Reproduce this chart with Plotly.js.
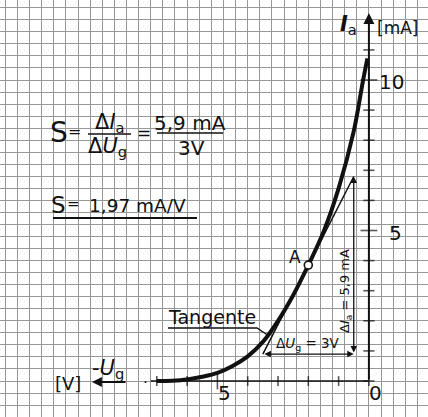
<!DOCTYPE html>
<html>
<head>
<meta charset="utf-8">
<script src="https://cdn.plot.ly/plotly-3.0.1.min.js"></script>
<style>
  html, body { margin: 0; padding: 0; background: #fff; }
  #chart { width: 428px; height: 417px; }
</style>
</head>
<body>
<div id="chart"></div>
<script>
// Triode characteristic: anode current Ia versus negative grid voltage -Ug
const ugCurve = [7.0, 6.5, 6.0, 5.5, 5.0, 4.5, 4.0, 3.5, 3.0, 2.5, 2.0, 1.5, 1.0, 0.5, 0.2, 0.05];
const iaCurve = [0.0, 0.01, 0.05, 0.14, 0.27, 0.5, 0.82, 1.3, 2.0, 2.85, 3.85, 4.95, 6.4, 8.3, 9.95, 10.72];

// Operating point A and the tangent through it
const pointA = { ug: 2.0, ia: 3.85 };
const slopeS = 1.97;        // mA/V
const deltaUg = 3;          // V
const deltaIa = 5.9;        // mA

// Axis ticks and their labels
const xTicks = [0, 1, 2, 3, 4, 5, 6, 7];
const yTicks = [0, 1, 2, 3, 4, 5, 6, 7, 8, 9, 10, 11];
const xTickLabels = [{ v: 5, t: '5' }, { v: 0, t: '0' }];
const yTickLabels = [{ v: 10, t: '10' }, { v: 5, t: '5' }];

const W = 428, H = 417;
const FONT = 'DejaVu Sans, Liberation Sans, sans-serif';
const INK = '#111';

// pixel position -> paper fraction (used for text and decorations only)
const px = (x) => x / W;
const py = (y) => 1 - y / H;

// tangent end points from the stated values
const tanLo = { ug: pointA.ug + deltaUg / 2, ia: pointA.ia - slopeS * deltaUg / 2 };
const tanHi = { ug: pointA.ug - deltaUg / 2, ia: tanLo.ia + deltaIa };

const traces = [
  { // characteristic curve
    x: ugCurve, y: iaCurve, mode: 'lines', type: 'scatter',
    line: { color: INK, width: 4, shape: 'spline', smoothing: 1 },
    hoverinfo: 'skip'
  },
  { // tangent at A
    x: [tanLo.ug, tanHi.ug], y: [tanLo.ia, tanHi.ia], mode: 'lines', type: 'scatter',
    line: { color: INK, width: 1.5 }, hoverinfo: 'skip'
  },
  { // x axis ticks
    x: xTicks, y: xTicks.map(() => 0), mode: 'markers', type: 'scatter',
    marker: { symbol: 'line-ns-open', color: INK, size: xTicks.map(v => v === 5 ? 12 : 7),
              line: { color: INK, width: 1.6 } },
    hoverinfo: 'skip'
  },
  { // y axis ticks
    x: yTicks.map(() => 0), y: yTicks, mode: 'markers', type: 'scatter',
    marker: { symbol: 'line-ew-open', color: INK, size: yTicks.map(v => (v === 5 || v === 10) ? 12 : 8),
              line: { color: INK, width: 1.6 } },
    hoverinfo: 'skip'
  },
  { // operating point A
    x: [pointA.ug], y: [pointA.ia], mode: 'markers', type: 'scatter',
    marker: { symbol: 'circle', size: 8, color: '#fff', line: { color: INK, width: 1.6 } },
    hoverinfo: 'skip'
  }
];

const txt = (x, y, text, size, extra) => Object.assign({
  xref: 'paper', yref: 'paper', x: px(x), y: py(y), text: text,
  showarrow: false, xanchor: 'center', yanchor: 'middle',
  font: { family: FONT, size: size, color: INK }
}, extra || {});

const annotations = [
  // slope formula
  txt(58.5, 132, 'S', 28),
  txt(74, 131, '=', 16),
  txt(110, 123, 'Δ<i>I</i><sub>a</sub>', 21),
  txt(108, 147, 'Δ<i>U</i><sub>g</sub>', 21),
  txt(144, 133, '=', 17),
  txt(190, 123, '5,9 mA', 20),
  txt(191, 148, '3V', 20),
  txt(59, 205, 'S', 23),
  txt(73, 204, '=', 15),
  txt(137, 205, '1,97 mA/V', 18.5),
  // labels on the drawing
  txt(212, 317, 'Tangente', 19),
  txt(295, 257, 'A', 17),
  txt(308, 344, 'Δ<i>U</i><sub>g</sub> = 3V', 13.5),
  txt(345, 291, 'Δ<i>I</i><sub>a</sub> = 5,9 mA', 13, { textangle: -90 }),
  // axis titles
  txt(348, 25, '<b><i>I</i></b><sub>a</sub>', 21),
  txt(397, 28, '[mA]', 17),
  txt(108, 369, '-<i>U</i><sub>g</sub>', 21),
  txt(68, 383, '[V]', 18),
  // y axis with arrow
  { x: 0, y: 12.23, ax: 0, ay: 0, axref: 'x', ayref: 'y', xref: 'x', yref: 'y',
    text: '', showarrow: true, arrowhead: 2, arrowsize: 1.1, arrowwidth: 2, arrowcolor: INK },
  // -Ug direction arrow
  { xref: 'paper', yref: 'paper', x: px(92), y: py(382), ax: 35, ay: 0,
    text: '', showarrow: true, arrowhead: 2, arrowsize: 1.1, arrowwidth: 1.8, arrowcolor: INK },
  // delta Ug double arrow
  { x: tanHi.ug, y: tanLo.ia, ax: tanLo.ug, ay: tanLo.ia, axref: 'x', ayref: 'y', xref: 'x', yref: 'y',
    text: '', showarrow: true, arrowhead: 2, arrowside: 'end+start', arrowsize: 1, arrowwidth: 1.3, arrowcolor: INK },
  // delta Ia double arrow
  { x: tanHi.ug, y: tanHi.ia, ax: tanHi.ug, ay: tanLo.ia, axref: 'x', ayref: 'y', xref: 'x', yref: 'y',
    text: '', showarrow: true, arrowhead: 2, arrowside: 'end+start', arrowsize: 1, arrowwidth: 1.3, arrowcolor: INK }
];

// tick numbers placed next to the axes
xTickLabels.forEach(d => annotations.push({
  x: d.v, y: 0, xref: 'x', yref: 'y', text: d.t, showarrow: false,
  xshift: 7, yshift: -12,
  font: { family: FONT, size: 20, color: INK }
}));
yTickLabels.forEach(d => annotations.push({
  x: 0, y: d.v, xref: 'x', yref: 'y', text: d.t, showarrow: false,
  xshift: d.t.length > 1 ? 23 : 27, yshift: -2,
  font: { family: FONT, size: 20, color: INK }
}));

const line = (x0, y0, x1, y1, w) => ({
  type: 'line', xref: 'paper', yref: 'paper',
  x0: px(x0), y0: py(y0), x1: px(x1), y1: py(y1),
  line: { color: INK, width: w }
});

const shapes = [
  // x axis line
  { type: 'line', xref: 'x', yref: 'y', x0: 7.2, y0: 0, x1: 0, y1: 0, line: { color: INK, width: 1.5 } },
  // fraction bars and underline
  line(88, 134, 131, 134, 1.6),
  line(157, 133, 223, 133, 1.6),
  line(53, 218, 197, 218, 2),
  // leader from "Tangente" to the tangent
  { type: 'path', xref: 'paper', yref: 'paper',
    path: 'M ' + px(168) + ' ' + py(328) + ' L ' + px(257) + ' ' + py(328) + ' L ' + px(269) + ' ' + py(336),
    line: { color: INK, width: 1.3 } },
  // small dot left of the axis start
  { type: 'circle', xref: 'paper', yref: 'paper',
    x0: px(144.5), y0: py(381), x1: px(146.5), y1: py(383), fillcolor: INK, line: { width: 0 } }
];

const gridAxis = {
  showgrid: true, gridcolor: '#979797', gridwidth: 1, dtick: 0.4, tick0: 0,
  showticklabels: false, zeroline: false, showline: false, ticks: '', fixedrange: true
};

const layout = {
  width: W, height: H,
  margin: { l: 0, r: 0, t: 0, b: 0 },
  paper_bgcolor: '#fff', plot_bgcolor: '#fff',
  showlegend: false,
  xaxis: Object.assign({ range: [12.175, -1.95] }, gridAxis),
  yaxis: Object.assign({ range: [-1.196, 12.658] }, gridAxis),
  annotations: annotations,
  shapes: shapes
};

Plotly.newPlot('chart', traces, layout, { staticPlot: true, displayModeBar: false });
</script>
</body>
</html>
